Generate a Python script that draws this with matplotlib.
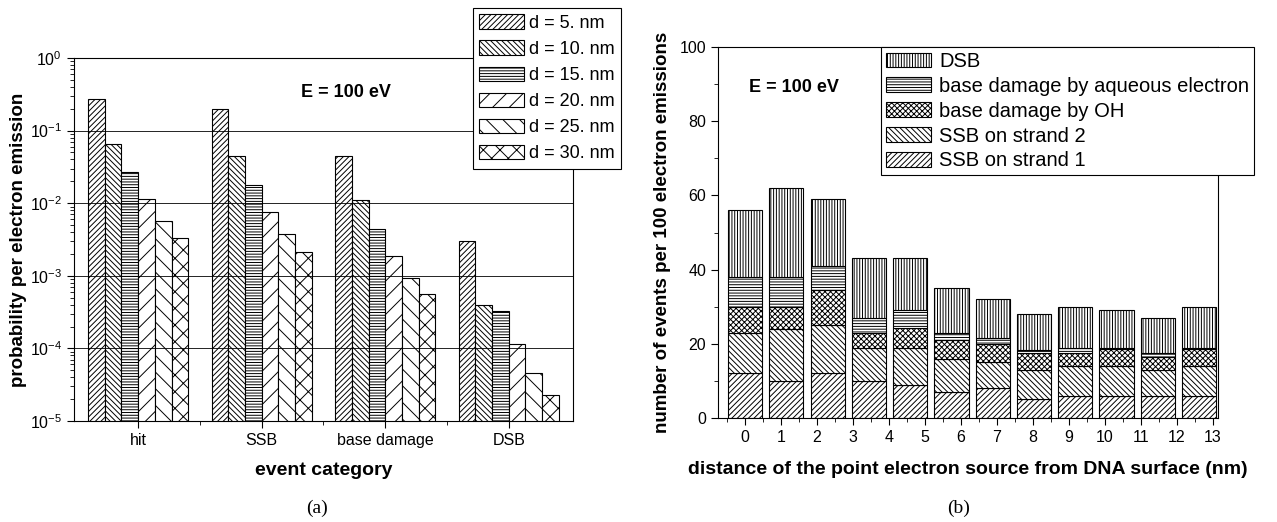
import numpy as np
import matplotlib.pyplot as plt
from matplotlib.patches import Patch
from matplotlib.ticker import FixedLocator, MultipleLocator, LogLocator, NullFormatter

plt.rcParams['font.family'] = ['Liberation Sans', 'DejaVu Sans']
plt.rcParams['mathtext.default'] = 'regular'
plt.rcParams['hatch.linewidth'] = 0.7

# (a) probability per electron emission, one list per distance d
categories = ['hit', 'SSB', 'base damage', 'DSB']
d_labels = ['d = 5. nm', 'd = 10. nm', 'd = 15. nm', 'd = 20. nm', 'd = 25. nm', 'd = 30. nm']
prob_d5 = [0.27, 0.20, 0.045, 0.0030]
prob_d10 = [0.065, 0.045, 0.011, 0.00040]
prob_d15 = [0.027, 0.018, 0.0044, 0.00033]
prob_d20 = [0.0114, 0.0076, 0.0019, 0.000115]
prob_d25 = [0.0057, 0.0038, 0.00093, 0.000046]
prob_d30 = [0.0033, 0.0021, 0.00057, 0.000023]

# (b) events per 100 electron emissions, stacked segments (bottom -> top)
source_dist = [0, 1.15, 2.3, 3.44, 4.59, 5.74, 6.89, 8.04, 9.18, 10.33, 11.48, 12.63]
ssb_strand1 = [12, 10, 12, 10, 9, 7, 8, 5, 6, 6, 6, 6]
ssb_strand2 = [11, 14, 13, 9, 10, 9, 7, 8, 8, 8, 7, 8]
base_oh = [7, 6, 9.5, 4, 5.3, 5, 5, 4.5, 3.5, 4.5, 3.5, 4.5]
base_aq = [8, 8, 6.5, 4, 4.7, 2, 1.5, 0.7, 1.5, 0.4, 1, 0.4]
dsb = [18, 24, 18, 16, 14, 12, 10.5, 9.8, 11, 10.1, 9.5, 11]
b_labels = ['SSB on strand 1', 'SSB on strand 2', 'base damage by OH',
            'base damage by aqueous electron', 'DSB']

fig = plt.figure(figsize=(12.77, 5.22), dpi=100)
ax1 = fig.add_axes([0.0579, 0.1935, 0.3908, 0.6954])
ax2 = fig.add_axes([0.5622, 0.1992, 0.3916, 0.7107])

# ---- panel (a)
hatches_a = ['//////', '\\\\\\\\\\\\', '------', '//', '\\\\', 'xx']
series_a = [prob_d5, prob_d10, prob_d15, prob_d20, prob_d25, prob_d30]
ax1.set_yscale('log')
x = np.arange(1, len(categories) + 1)
w = 0.135
for k, vals in enumerate(series_a):
    ax1.bar(x + (k - 2.5) * w, vals, w, facecolor='white', edgecolor='black',
            hatch=hatches_a[k], linewidth=0.8, label=d_labels[k])
ax1.set_ylim(1e-5, 1)
ax1.set_xlim(0.48, 4.52)
ax1.set_xticks(x, categories)
ax1.xaxis.set_minor_locator(FixedLocator([1.5, 2.5, 3.5]))
ax1.yaxis.set_major_locator(LogLocator(base=10, numticks=10))
ax1.yaxis.set_minor_locator(LogLocator(base=10, subs=np.arange(2, 10), numticks=10))
ax1.yaxis.set_minor_formatter(NullFormatter())
ax1.yaxis.grid(True, which='major', color='black', linewidth=0.6)
ax1.set_axisbelow(False)
ax1.tick_params(which='both', direction='out', top=False, right=False, labelsize=11.5)
ax1.tick_params(which='major', length=5)
ax1.tick_params(which='minor', length=3)
ax1.set_xlabel('event category', fontweight='bold', fontsize=14)
ax1.set_ylabel('probability per electron emission', fontweight='bold', fontsize=13.5)
ax1.xaxis.set_label_coords(0.5, -0.112)
ax1.yaxis.set_label_coords(-0.094, 0.5)
ax1.text(0.545, 0.906, 'E = 100 eV', transform=ax1.transAxes, ha='center', va='center',
         fontweight='bold', fontsize=13)

handles_a = [Patch(facecolor='white', edgecolor='black', hatch=h, linewidth=0.8) for h in hatches_a]
leg1 = fig.legend(handles_a, d_labels, loc='upper left', bbox_to_anchor=(473 / 1277, 1 - 8 / 522),
                  frameon=True, fancybox=False, edgecolor='black', framealpha=1, fontsize=13,
                  handlelength=2.45, handleheight=0.85, labelspacing=0.48, borderpad=0.35,
                  handletextpad=0.3, borderaxespad=0)
leg1.get_frame().set_linewidth(0.8)

# ---- panel (b)
hatches_b = ['//////', '\\\\\\\\\\\\', 'xxxxxx', '------', '||||||']
series_b = [ssb_strand1, ssb_strand2, base_oh, base_aq, dsb]
bottom = np.zeros(len(source_dist))
for k, vals in enumerate(series_b):
    ax2.bar(source_dist, vals, 0.95, bottom=bottom, facecolor='white', edgecolor='black',
            hatch=hatches_b[k], linewidth=0.8, label=b_labels[k])
    bottom += np.array(vals)
ax2.set_xlim(-0.75, 13.15)
ax2.set_ylim(0, 100)
ax2.set_xticks(range(14))
ax2.xaxis.set_minor_locator(MultipleLocator(0.5))
ax2.yaxis.set_major_locator(MultipleLocator(20))
ax2.yaxis.set_minor_locator(MultipleLocator(10))
ax2.tick_params(which='both', direction='out', top=False, right=False, labelsize=11.5)
ax2.tick_params(which='major', length=5)
ax2.tick_params(which='minor', length=3)
ax2.set_xlabel('distance of the point electron source from DNA surface (nm)',
               fontweight='bold', fontsize=14)
ax2.set_ylabel('number of events per 100 electron emissions', fontweight='bold', fontsize=13.5)
ax2.xaxis.set_label_coords(0.5, -0.116)
ax2.yaxis.set_label_coords(-0.094, 0.5)
ax2.text(0.152, 0.892, 'E = 100 eV', transform=ax2.transAxes, ha='center', va='center',
         fontweight='bold', fontsize=13)

handles_b = [Patch(facecolor='white', edgecolor='black', hatch=h, linewidth=0.8) for h in hatches_b]
leg2 = fig.legend(handles_b[::-1], b_labels[::-1], loc='upper left',
                  bbox_to_anchor=(881 / 1277, 1 - 47 / 522),
                  frameon=True, fancybox=False, edgecolor='black', framealpha=1, fontsize=14.5,
                  handlelength=2.24, handleheight=0.75, labelspacing=0.29, borderpad=0.25,
                  handletextpad=0.4, borderaxespad=0)
leg2.get_frame().set_linewidth(0.8)

fig.text(317 / 1277, 1 - 508 / 522, '(a)', ha='center', va='center',
         family='Liberation Serif', fontsize=14)
fig.text(959 / 1277, 1 - 508 / 522, '(b)', ha='center', va='center',
         family='Liberation Serif', fontsize=14)

fig.savefig('out.png', dpi=100)
